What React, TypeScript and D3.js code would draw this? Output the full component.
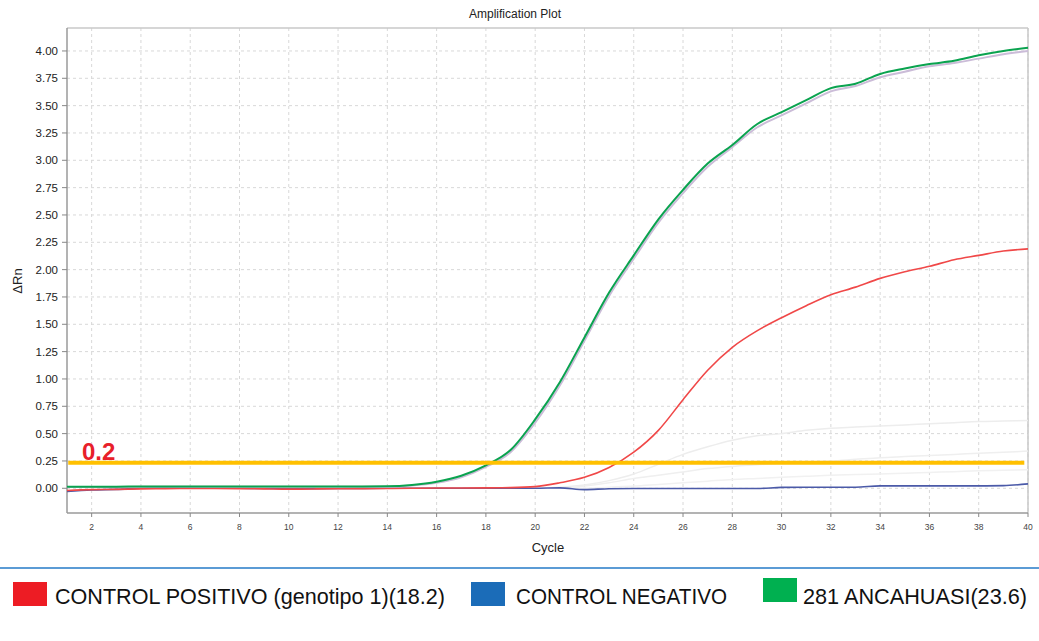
import React from "react";
import * as d3 from "d3";

const cycles = [1,2,3,4,5,6,7,8,9,10,11,12,13,14,15,16,17,18,19,20,21,22,23,24,25,26,27,28,29,30,31,32,33,34,35,36,37,38,39,40];

const ancahuasi = [0.015,0.015,0.015,0.016,0.016,0.016,0.016,0.016,0.016,0.016,0.016,0.016,0.017,0.018,0.03,0.06,0.115,0.21,0.35,0.63,0.97,1.38,1.79,2.13,2.46,2.73,2.97,3.14,3.33,3.44,3.55,3.66,3.70,3.79,3.84,3.88,3.91,3.96,4.00,4.03];
const ancahuasiRep = [0.012,0.012,0.012,0.013,0.013,0.013,0.013,0.013,0.013,0.013,0.013,0.013,0.014,0.015,0.025,0.05,0.10,0.195,0.33,0.60,0.94,1.35,1.76,2.10,2.43,2.70,2.94,3.12,3.30,3.41,3.52,3.63,3.68,3.76,3.81,3.86,3.89,3.93,3.97,4.00];
const positivo = [-0.02,-0.012,-0.01,-0.005,-0.003,-0.002,-0.002,-0.003,-0.005,-0.008,-0.006,-0.004,-0.003,-0.002,0,0.002,0.003,0.004,0.006,0.015,0.05,0.10,0.19,0.33,0.53,0.81,1.08,1.29,1.44,1.56,1.67,1.77,1.84,1.92,1.98,2.03,2.09,2.13,2.17,2.19];
const negativo = [-0.03,-0.015,-0.01,0.0,0.004,0.002,0.0,0.0,-0.002,-0.004,-0.003,-0.002,-0.001,0,0,0,0,0,0,0.0,0.004,-0.012,-0.004,-0.002,-0.002,-0.002,-0.002,-0.002,-0.002,0.008,0.01,0.01,0.01,0.022,0.022,0.022,0.022,0.022,0.024,0.04];

const faintCycles = [20,21,22,23,24,25,26,27,28,29,30,31,32,33,34,35,36,37,38,39,40];
const faintA = [0.0,0.01,0.03,0.07,0.13,0.22,0.31,0.38,0.44,0.48,0.50,0.53,0.55,0.56,0.57,0.58,0.59,0.60,0.61,0.615,0.62];
const faintB = [0.0,0.0,0.02,0.05,0.09,0.12,0.15,0.18,0.20,0.215,0.23,0.24,0.25,0.265,0.28,0.29,0.30,0.31,0.32,0.33,0.34];
const faintC = [0.0,0.0,0.0,0.01,0.02,0.035,0.05,0.065,0.08,0.09,0.10,0.11,0.12,0.125,0.13,0.138,0.145,0.152,0.16,0.165,0.17];

const threshold = 0.234;
const thresholdLabel = "0.2";
const yTicks = [0,0.25,0.5,0.75,1,1.25,1.5,1.75,2,2.25,2.5,2.75,3,3.25,3.5,3.75,4];
const xTicks = [2,4,6,8,10,12,14,16,18,20,22,24,26,28,30,32,34,36,38,40];

const legendItems = [
  { label: "CONTROL POSITIVO (genotipo 1)(18.2)", color: "#ed1c24" },
  { label: "CONTROL NEGATIVO", color: "#1b6cb8" },
  { label: "281 ANCAHUASI(23.6)", color: "#00b050" },
];

export default function App() {
  const W = 1039, H = 641;
  const L = 67, R = 1028, T = 28, B = 513;
  const x = d3.scaleLinear().domain([1, 40]).range([L, R]);
  const y = d3.scaleLinear().domain([-0.226, 4.21]).range([B, T]);

  const mk = (xs: number[], ys: number[]) =>
    d3.line<number>().x((_, i) => x(xs[i])).y((v) => y(v)).curve(d3.curveMonotoneX)(ys) || "";

  const legendLayout = [
    { sx: 13, sy: 582, tx: 55, tl: 390 },
    { sx: 471, sy: 582, tx: 516, tl: 211 },
    { sx: 763, sy: 578, tx: 803, tl: 224 },
  ];

  return (
    <svg width={W} height={H} style={{ position: "absolute", left: 0, top: 0, background: "#fff" }}>
      <rect x={0} y={0} width={W} height={H} fill="#fff" />
      <text x={515} y={18} textAnchor="middle" fontFamily="Liberation Sans, Arial, sans-serif" fontSize={12} fill="#222">Amplification Plot</text>

      {/* grid */}
      {xTicks.map((t) => (
        <line key={"gx" + t} x1={x(t)} x2={x(t)} y1={T} y2={B} stroke="#d8d8d8" strokeDasharray="3,3" strokeWidth={1} />
      ))}
      {yTicks.map((t) => (
        <line key={"gy" + t} x1={L} x2={R} y1={y(t)} y2={y(t)} stroke="#d8d8d8" strokeDasharray="3,3" strokeWidth={1} />
      ))}

      {/* frame */}
      <line x1={L} x2={R} y1={T} y2={T} stroke="#c8c8c8" strokeWidth={1.5} />
      <line x1={R} x2={R} y1={T} y2={B} stroke="#c8c8c8" strokeWidth={1.5} />
      <line x1={L} x2={L} y1={T} y2={B} stroke="#9a9a9a" strokeWidth={1.5} />
      <line x1={L} x2={R} y1={B} y2={B} stroke="#9a9a9a" strokeWidth={1.5} />

      {/* y ticks */}
      {yTicks.map((t) => (
        <g key={"yt" + t}>
          <line x1={L - 5} x2={L} y1={y(t)} y2={y(t)} stroke="#888" />
          <text x={58} y={y(t) + 4} textAnchor="end" fontFamily="Liberation Sans, Arial, sans-serif" fontSize={11.5} fill="#222">{t.toFixed(2)}</text>
        </g>
      ))}
      {/* x ticks */}
      {xTicks.map((t) => (
        <g key={"xt" + t}>
          <line x1={x(t)} x2={x(t)} y1={B} y2={B + 4} stroke="#888" />
          <text x={x(t)} y={530} textAnchor="middle" fontFamily="Liberation Sans, Arial, sans-serif" fontSize={8.5} fill="#444">{t}</text>
        </g>
      ))}
      <text x={548} y={552} textAnchor="middle" fontFamily="Liberation Sans, Arial, sans-serif" fontSize={13} fill="#222">Cycle</text>
      <text transform={`translate(22,281) rotate(-90)`} textAnchor="middle" fontFamily="Liberation Sans, Arial, sans-serif" fontSize={13} fill="#222">ΔRn</text>

      {/* faint curves */}
      <path d={mk(faintCycles, faintA)} fill="none" stroke="#ededed" strokeWidth={1.5} />
      <path d={mk(faintCycles, faintB)} fill="none" stroke="#efefef" strokeWidth={1.5} />
      <path d={mk(faintCycles, faintC)} fill="none" stroke="#f1f1f1" strokeWidth={1.5} />

      {/* curves */}
      <path d={mk(cycles, negativo)} fill="none" stroke="#4b5aa8" strokeWidth={1.6} />
      <path d={mk(cycles, positivo)} fill="none" stroke="#f04848" strokeWidth={1.6} />
      <path d={mk(cycles, ancahuasiRep)} fill="none" stroke="#cbbcd8" strokeWidth={2} />
      <path d={mk(cycles, ancahuasi)} fill="none" stroke="#0aa34f" strokeWidth={2} />

      {/* threshold */}
      <line x1={x(1.05)} x2={x(39.85)} y1={y(threshold)} y2={y(threshold)} stroke="#ffc000" strokeWidth={4} />
      <text x={82} y={460} fontFamily="Liberation Sans, Arial, sans-serif" fontWeight="bold" fontSize={24} fill="#e8202a">{thresholdLabel}</text>

      {/* legend */}
      <line x1={0} x2={W} y1={568} y2={568} stroke="#5b9bd5" strokeWidth={2} />
      {legendItems.map((it, i) => {
        const p = legendLayout[i];
        return (
          <g key={it.label}>
            <rect x={p.sx} y={p.sy} width={34} height={24} fill={it.color} />
            <text x={p.tx} y={604} fontFamily="Liberation Sans, Arial, sans-serif" fontSize={21.5} fill="#111" textLength={p.tl} lengthAdjust="spacingAndGlyphs">{it.label}</text>
          </g>
        );
      })}
    </svg>
  );
}
